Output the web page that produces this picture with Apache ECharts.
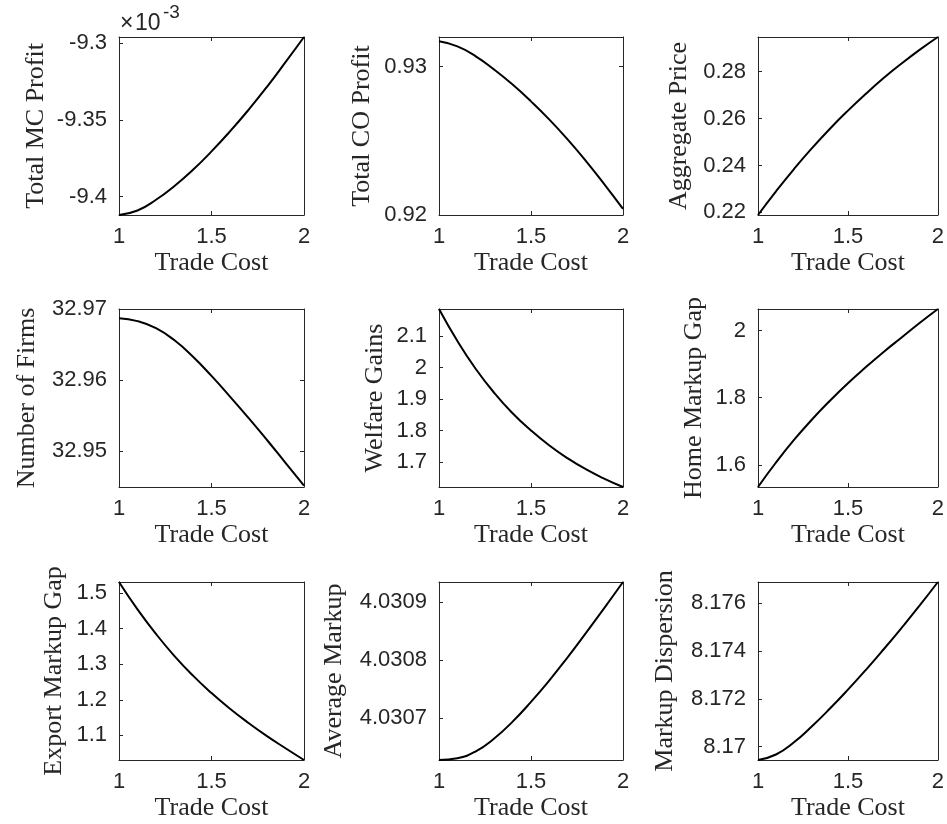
<!DOCTYPE html>
<html>
<head>
<meta charset="utf-8">
<script src="https://cdn.jsdelivr.net/npm/echarts@6/dist/echarts.min.js"></script>
<style>
  html, body { margin: 0; padding: 0; background: #fff; }
  #chart { width: 947px; height: 824px; }
</style>
</head>
<body>
<div id="chart"></div>
<script>
// ---------- data ----------
const tradeCost = [1, 1.1, 1.2, 1.3, 1.4, 1.5, 1.6, 1.7, 1.8, 1.9, 2];
const xTicks = [1, 1.5, 2];

const totalMCProfit = [-9.4119e-3, -9.4090e-3, -9.4020e-3, -9.3930e-3, -9.3825e-3, -9.3705e-3, -9.3575e-3, -9.3435e-3, -9.3285e-3, -9.3125e-3, -9.2961e-3];
const totalCOProfit = [0.93171, 0.93137, 0.93070, 0.92980, 0.92879, 0.92766, 0.92643, 0.92508, 0.92362, 0.92205, 0.92041];
const aggregatePrice = [0.2189, 0.2290, 0.2385, 0.2474, 0.2557, 0.2634, 0.2706, 0.2774, 0.2836, 0.2894, 0.2948];
const numberOfFirms = [32.9687, 32.9683, 32.9673, 32.9656, 32.9633, 32.9606, 32.9577, 32.9547, 32.9516, 32.9484, 32.9452];
const welfareGains = [2.187, 2.085, 1.996, 1.920, 1.855, 1.800, 1.752, 1.711, 1.676, 1.646, 1.620];
const homeMarkupGap = [1.534, 1.607, 1.674, 1.735, 1.791, 1.843, 1.891, 1.937, 1.980, 2.023, 2.064];
const exportMarkupGap = [1.531, 1.454, 1.385, 1.323, 1.268, 1.219, 1.175, 1.135, 1.098, 1.064, 1.031];
const averageMarkup = [4.030628, 4.030631, 4.030643, 4.030665, 4.030694, 4.030728, 4.030765, 4.030805, 4.030847, 4.030890, 4.030934];
const markupDispersion = [8.16944, 8.16967, 8.17018, 8.17085, 8.17159, 8.17238, 8.17321, 8.17408, 8.17498, 8.17591, 8.17688];

const mcTicks = [-9.4e-3, -9.35e-3, -9.3e-3];
const coTicks = [0.92, 0.93];
const priceTicks = [0.22, 0.24, 0.26, 0.28];
const firmsTicks = [32.95, 32.96, 32.97];
const welfareTicks = [1.7, 1.8, 1.9, 2, 2.1];
const homeTicks = [1.6, 1.8, 2];
const exportTicks = [1.1, 1.2, 1.3, 1.4, 1.5];
const avgTicks = [4.0307, 4.0308, 4.0309];
const dispTicks = [8.17, 8.172, 8.174, 8.176];

const coLimits = [0.92, 0.932];
const firmsLimits = [32.945, 32.97];

const xLabel = 'Trade Cost';
const mcExponent = -3;

// ---------- panels ----------
const panels = [
  { name: 'Total MC Profit',    data: totalMCProfit,    ticks: mcTicks,      scale: 1e3, gap: 70 },
  { name: 'Total CO Profit',    data: totalCOProfit,    ticks: coTicks,      lim: coLimits, gap: 64 },
  { name: 'Aggregate Price',    data: aggregatePrice,   ticks: priceTicks,   gap: 66 },
  { name: 'Number of Firms',    data: numberOfFirms,    ticks: firmsTicks,   lim: firmsLimits, gap: 79 },
  { name: 'Welfare Gains',      data: welfareGains,     ticks: welfareTicks, gap: 51 },
  { name: 'Home Markup Gap',    data: homeMarkupGap,    ticks: homeTicks,    gap: 51 },
  { name: 'Export Markup Gap',  data: exportMarkupGap,  ticks: exportTicks,  gap: 52 },
  { name: 'Average Markup',     data: averageMarkup,    ticks: avgTicks,     gap: 92 },
  { name: 'Markup Dispersion',  data: markupDispersion, ticks: dispTicks,    gap: 80 }
];

const colLeft = [119, 439, 758];
const colWidth = [185, 184, 184];
const rowTop = [37, 309, 582];
const rowHeight = 178;

const AX = '#262626';
const tickFont = { fontFamily: 'Liberation Sans, Arial, sans-serif', fontSize: 22, color: AX };
const nameFont = { fontFamily: 'Liberation Serif, Times New Roman, serif', fontSize: 26, color: AX };

const grid = [], xAxis = [], yAxis = [], series = [];

panels.forEach((p, i) => {
  const r = Math.floor(i / 3), c = i % 3;
  grid.push({ left: colLeft[c], top: rowTop[r], width: colWidth[c], height: rowHeight, containLabel: false });
  const fmt = p.scale ? (v => String(parseFloat((v * p.scale).toFixed(4)))) : (v => String(parseFloat(v.toFixed(6))));
  const yMin = p.lim ? p.lim[0] : 'dataMin';
  const yMax = p.lim ? p.lim[1] : 'dataMax';
  xAxis.push({
    gridIndex: i, type: 'value', min: 1, max: 2, position: 'bottom',
    name: xLabel, nameLocation: 'middle', nameGap: 35, nameTextStyle: nameFont, nameMoveOverlap: false,
    axisLine: { show: true, onZero: false, lineStyle: { color: AX, width: 1 } },
    axisTick: { show: true, inside: true, length: 4, customValues: xTicks, lineStyle: { color: AX } },
    axisLabel: { show: true, margin: 11, customValues: xTicks, formatter: v => String(v), ...tickFont },
    splitLine: { show: false }
  });
  xAxis.push({
    gridIndex: i, type: 'value', min: 1, max: 2, position: 'top',
    axisLine: { show: true, onZero: false, lineStyle: { color: AX, width: 1 } },
    axisTick: { show: true, inside: true, length: 4, customValues: xTicks, lineStyle: { color: AX } },
    axisLabel: { show: false }, splitLine: { show: false }
  });
  yAxis.push({
    gridIndex: i, type: 'value', min: yMin, max: yMax, position: 'left', scale: true,
    name: p.name, nameLocation: 'middle', nameRotate: 90, nameGap: p.gap, nameTextStyle: nameFont, nameMoveOverlap: false,
    axisLine: { show: true, onZero: false, lineStyle: { color: AX, width: 1 } },
    axisTick: { show: true, inside: true, length: 4, customValues: p.ticks, lineStyle: { color: AX } },
    axisLabel: { show: true, margin: 12, customValues: p.ticks, formatter: fmt, ...tickFont },
    splitLine: { show: false }
  });
  yAxis.push({
    gridIndex: i, type: 'value', min: yMin, max: yMax, position: 'right', scale: true,
    axisLine: { show: true, onZero: false, lineStyle: { color: AX, width: 1 } },
    axisTick: { show: true, inside: true, length: 4, customValues: p.ticks, lineStyle: { color: AX } },
    axisLabel: { show: false }, splitLine: { show: false }
  });
  series.push({
    type: 'line', xAxisIndex: 2 * i, yAxisIndex: 2 * i,
    data: tradeCost.map((x, k) => [x, p.data[k]]),
    showSymbol: false, smooth: 0.5,
    lineStyle: { color: '#000', width: 2 }, itemStyle: { color: '#000' },
    silent: true
  });
});

const chart = echarts.init(document.getElementById('chart'), null, { renderer: 'canvas' });
chart.setOption({
  animation: false,
  backgroundColor: '#fff',
  grid, xAxis, yAxis, series,
  graphic: [
    { type: 'text', left: 120, top: 12, style: { text: '\u00d7', font: '23px "Liberation Sans", Arial, sans-serif', fill: AX } },
    { type: 'text', left: 135, top: 12, style: { text: '10', font: '23px "Liberation Sans", Arial, sans-serif', fill: AX } },
    { type: 'text', left: 163, top: 3, style: { text: String(mcExponent), font: '19px "Liberation Sans", Arial, sans-serif', fill: AX } }
  ]
});
</script>
</body>
</html>
